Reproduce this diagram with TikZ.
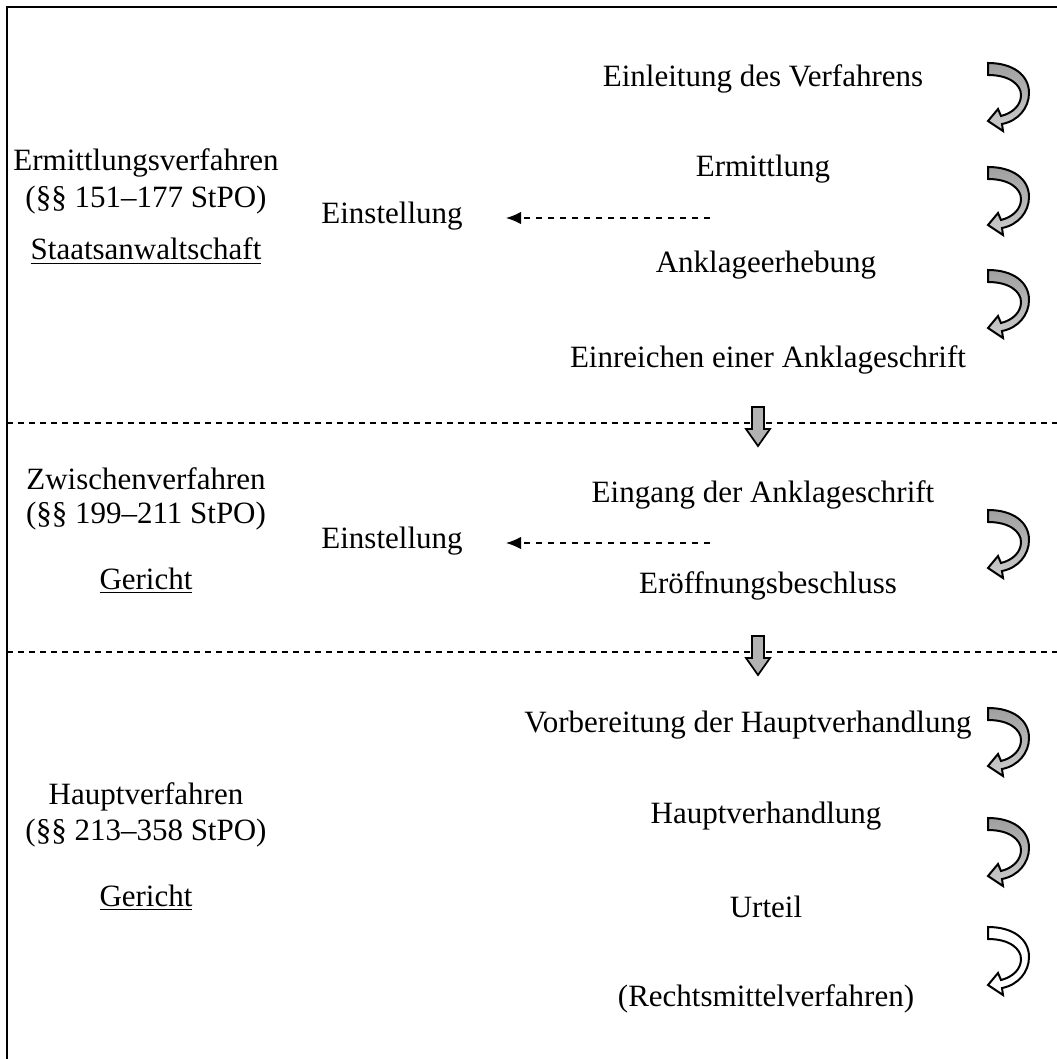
\documentclass[tikz,border=0pt]{standalone}
\usepackage{fontspec}
\setmainfont{Liberation Serif}
\usepackage{tikz}
\usetikzlibrary{arrows.meta}

\begin{document}
\begin{tikzpicture}[x=0.4pt, y=-0.4pt, every node/.style={font=\fontsize{12.4}{14}\selectfont, inner sep=0pt, yshift=-1.2pt}, sepline/.style={dashed, dash pattern=on 2.4pt off 2pt, line width=0.45pt}, stopline/.style={dashed, dash pattern=on 2.4pt off 2.4pt, line width=0.65pt, -{Latex[length=6pt, width=5pt]}}, turn/.style={line width=0.8pt, top color=gray!75, bottom color=gray!40}, downarrow/.style={line width=0.7pt, fill=gray!60}]
	\useasboundingbox (0,0) rectangle (1057,1059);
	\draw[line width=0.8pt] (1057,7) -- (7,7) -- (7,1059);
	\draw[sepline] (7,423) -- (1057,423);
	\draw[sepline] (7,652) -- (1057,652);
		\node (erm) at (146,160) {Ermittlungsverfahren};
		\node (ermpar) at (146,197) {(§§ 151–177 StPO)};
		\node (sta) at (146,248) {\underline{Staatsanwaltschaft}};
		\node (zw) at (146,476) {Zwischenverfahren};
		\node (zwpar) at (146,513) {(§§ 199–211 StPO)};
		\node (ger1) at (146,578) {\underline{Gericht}};
		\node (hv) at (146,794) {Hauptverfahren};
		\node (hvpar) at (146,830) {(§§ 213–358 StPO)};
		\node (ger2) at (146,895) {\underline{Gericht}};
		\node (einst1) at (392,213) {Einstellung};
		\node (einst2) at (392,538) {Einstellung};
		\node (einl) at (763,76) {Einleitung des Verfahrens};
		\node (ermi) at (763,166) {Ermittlung};
		\node (ankl) at (766,262) {Anklageerhebung};
		\node (einr) at (768,357) {Einreichen einer Anklageschrift};
		\node (eing) at (763,492) {Eingang der Anklageschrift};
		\node (eroe) at (768,583) {Eröffnungsbeschluss};
		\node (vorb) at (748,722) {Vorbereitung der Hauptverhandlung};
		\node (hverh) at (766,813) {Hauptverhandlung};
		\node (urt) at (766,904) {Urteil};
		\node (rm) at (766,996) {(Rechtsmittelverfahren)};
	\coordinate (s1) at (710,215);
	\coordinate (t1) at (506,215);
	\coordinate (s2) at (710,540);
	\coordinate (t2) at (506,540);
	\draw[stopline] (s1) -- (t1);
	\draw[stopline] (s2) -- (t2);
	\foreach \y in {407,636}
		\draw[downarrow, shift={(758,\y)}] (-6,0) -- (6,0) -- (6,22) -- (12,22) -- (0,39) -- (-12,22) -- (-6,22) -- cycle;
	\foreach \y in {63,167,270,510,708,818}
		\draw[turn, shift={(988,\y)}] (0,0) -- (0,12) .. controls (22,12) and (33,22) .. (33,32) .. controls (33,42) and (25,50) .. (13,53) -- (10,46) -- (0,58) -- (15,68) -- (14,61) .. controls (30,58) and (41,45) .. (41,30) .. controls (41,12) and (25,0) .. (0,0) -- cycle;
	\draw[line width=0.8pt, fill=white, shift={(988,927)}] (0,0) -- (0,12) .. controls (22,12) and (33,22) .. (33,32) .. controls (33,42) and (25,50) .. (13,53) -- (10,46) -- (0,58) -- (15,68) -- (14,61) .. controls (30,58) and (41,45) .. (41,30) .. controls (41,12) and (25,0) .. (0,0) -- cycle;
\end{tikzpicture}
\end{document}
